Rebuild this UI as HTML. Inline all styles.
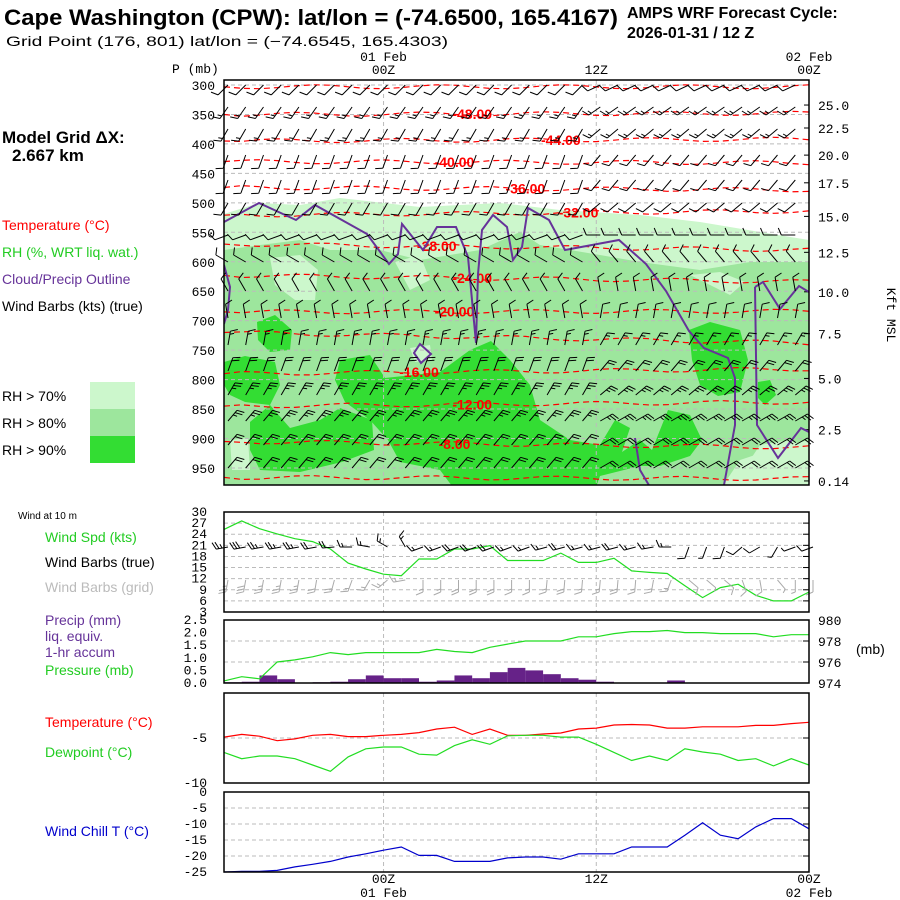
<!DOCTYPE html>
<html><head><meta charset="utf-8"><style>
body{margin:0;background:#fff}
svg{display:block}
text{font-family:"Liberation Sans",sans-serif}
.m{font-family:"Liberation Mono",monospace;font-size:13px}
</style></head><body>
<svg id="s" width="900" height="900" viewBox="0 0 900 900" xmlns="http://www.w3.org/2000/svg">
<text x="4" y="25" font-size="22" font-weight="bold" textLength="614" lengthAdjust="spacingAndGlyphs">Cape Washington (CPW):  lat/lon = (-74.6500, 165.4167)</text>
<text x="6" y="46" font-size="14" textLength="442" lengthAdjust="spacingAndGlyphs">Grid Point (176, 801) lat/lon = (−74.6545, 165.4303)</text>
<text x="627" y="18" font-size="16" font-weight="bold">AMPS WRF Forecast Cycle:</text>
<text x="627" y="38" font-size="16" font-weight="bold">2026-01-31 / 12  Z</text>
<text x="2" y="143" font-size="17" font-weight="bold">Model Grid ΔX:</text>
<text x="12" y="161" font-size="17" font-weight="bold">2.667 km</text>
<g font-size="14">
<text x="2" y="230" fill="#f00">Temperature (°C)</text>
<text x="2" y="257" fill="#2c2">RH (%, WRT liq. wat.)</text>
<text x="2" y="284" fill="#639">Cloud/Precip Outline</text>
<text x="2" y="311" fill="#000">Wind Barbs (kts) (true)</text>
<text x="2" y="401">RH &gt; 70%</text>
<text x="2" y="428">RH &gt; 80%</text>
<text x="2" y="455">RH &gt; 90%</text>
</g>
<rect x="90" y="382" width="45" height="27" fill="#ccf7cc"/>
<rect x="90" y="409" width="45" height="27" fill="#9de69d"/>
<rect x="90" y="436" width="45" height="27" fill="#33dd33"/>
<text x="18" y="519" font-size="10">Wind at 10 m</text>
<g font-size="14">
<text x="45" y="542" fill="#2c2">Wind Spd (kts)</text>
<text x="45" y="567">Wind Barbs (true)</text>
<text x="45" y="592" fill="#bbb">Wind Barbs (grid)</text>
<text x="45" y="625" fill="#639">Precip (mm)</text>
<text x="45" y="641" fill="#639">liq. equiv.</text>
<text x="45" y="657" fill="#639">1-hr accum</text>
<text x="45" y="675" fill="#2c2">Pressure (mb)</text>
<text x="856" y="654">(mb)</text>
<text x="45" y="727" fill="#f00">Temperature (°C)</text>
<text x="45" y="757" fill="#2c2">Dewpoint (°C)</text>
<text x="45" y="836" fill="#00c">Wind Chill T (°C)</text>
</g>
<text x="887" y="315" font-size="12" class="m" transform="rotate(90 887 315)" text-anchor="middle">Kft MSL</text>
<text x="172" y="73" class="m">P (mb)</text>
</svg>
<script>
const NS="http://www.w3.org/2000/svg";
const svg=document.getElementById('s');
function mk(tag,attrs,parent){const e=document.createElementNS(NS,tag);for(const k in attrs)e.setAttribute(k,attrs[k]);(parent||svg).appendChild(e);return e;}
// ---- data ----
const hours=[0,1,2,3,4,5,6,7,8,9,10,11,12,13,14,15,16,17,18,19,20,21,22,23,24,25,26,27,28,29,30,31,32,33];
const windSpd=[25.3,27.6,25.5,24.1,22.8,22,20,16.2,14.6,13.2,12.8,17.3,17.3,20,20,20.9,16.9,16.9,16.9,18.9,16.4,16.4,17.5,14.1,13.7,13.4,10.1,6.9,9.6,10.5,7.5,6,6,8.4];
const windDir=[260,260,260,260,260,260,265,270,280,300,330,250,250,250,250,250,250,250,255,255,255,255,255,255,260,270,200,200,200,230,240,210,250,250];
const pressure=[974.2,974.6,974.4,976,976.2,976.5,976.9,976.7,976.9,976.9,976.9,976.9,977.2,977,976.9,977.4,977.7,978,978,978,978.4,978.4,978.7,978.9,978.9,979,978.8,978.8,978.7,978.7,978.7,978.4,978.6,978.6];
const precip=[0.03,0.05,0.3,0.15,0,0.03,0.05,0.15,0.3,0.19,0.19,0.05,0.1,0.3,0.19,0.43,0.6,0.5,0.35,0.19,0.13,0.05,0,0,0,0.1,0,0,0,0,0,0,0,0];
const tempC=[-4.9,-4.6,-4.8,-5.3,-5.1,-4.7,-4.6,-4.85,-4.85,-4.7,-4.6,-4.4,-4,-3.8,-4.6,-4,-4.7,-4.7,-4.55,-4.45,-4,-3.9,-3.55,-3.5,-3.55,-3.9,-3.9,-3.75,-3.75,-3.75,-3.6,-3.6,-3.4,-3.25];
const dewC=[-6.6,-7.3,-7,-7,-7.3,-8,-8.7,-7.1,-6.2,-6,-6,-6.8,-6.9,-5.85,-5.2,-5.7,-4.75,-4.7,-4.7,-4.9,-4.9,-5.7,-6.6,-7.5,-7,-7.5,-6.2,-6.55,-6.8,-7.5,-7.3,-8.1,-7.3,-8];
const windChill=[-25,-24.8,-24.8,-24.5,-23.4,-22.6,-21.7,-20.3,-19.3,-18.2,-17.2,-19.8,-19.8,-21.7,-21.7,-21.7,-20.6,-20.3,-20.3,-21,-19.3,-19.3,-19.3,-17.2,-17.2,-17.2,-13.5,-9.6,-13.5,-14.6,-10.9,-8.3,-8.3,-11.5];
const pLevels=[300,350,400,450,500,550,600,650,700,750,800,850,900,950];
const kftLabels=["25.0","22.5","20.0","17.5","15.0","12.5","10.0","7.5","5.0","2.5","0.14"];
const kftPres=[334,373,419,466,523,584,651,722,798,885,972];
const tempLevels=[null,-48,-44,-40,-36,-32,-28,-24,-20,null,-16,-12,-8,null];
const tempPresL=[303,350,395,430,474,521,570,623,685,720,790,845,905,966];
const tempPresR=[303,348,392,432,478,514,580,634,684,738,782,838,915,968];
const tempLabelHour=[0,14,19,13,17,20,12,14,13,0,11,14,13,0];
const wsTicks=[30,27,24,21,18,15,12,9,6,3];
const prTicks=[2.5,2.0,1.5,1.0,0.5,0.0];
const pmbTicks=[980,978,976,974];
const tTicks=[-5,-10];
const wcTicks=[0,-5,-10,-15,-20,-25];
// ---- scales ----
const X0=224,X1=809,NH=33;
const xT=h=>X0+h*(X1-X0)/NH;
const yPm=p=>85+(p-300)*0.5892;
const yWS=k=>512+(30-k)/27*100;
const yPR=mb=>683-(mb-974)/6*63;
const yRN=mm=>683-mm/2.5*63;
const yTC=t=>693-t/10*90;
const yWC=t=>792-t/25*80;
const pts=(arr,f)=>arr.map((v,i)=>xT(hours[i]).toFixed(1)+','+f(v).toFixed(1)).join(' ');
// ---- main cross-section ----
const main=mk('g',{});


const clip=mk('clipPath',{id:'cp'});mk('rect',{x:X0,y:80,width:X1-X0,height:405},clip);
const fills=mk('g',{'clip-path':'url(#cp)'},main);


const rh70="M224,214 L259,203 L300,205 L340,198 L420,207 L500,203 L560,210 L640,215 L700,222 L760,232 L809,240 L809,490 L224,490Z";
const rh80="M224,250 L260,245 L300,240 L330,250 L380,250 L420,260 L480,250 L520,232 L540,245 L600,255 L640,262 L700,270 L750,262 L809,262 L809,440 L770,450 L740,460 L720,490 L224,490Z";
const light80=["M270,258 L300,255 L318,270 L315,300 L295,300 L275,285Z","M395,262 L420,255 L430,280 L410,290Z","M690,275 L720,272 L745,282 L730,295Z","M760,445 L790,440 L809,450 L809,490 L730,490Z","M230,440 L248,438 L250,470 L232,470Z","M410,348 L430,345 L432,360 L415,362Z"];
const rh90=["M340,360 L370,355 L385,378 L440,372 L470,350 L491,341 L510,360 L530,385 L540,420 L570,440 L600,445 L615,420 L630,428 L622,452 L640,440 L652,450 L660,430 L668,410 L690,415 L702,440 L690,456 L660,466 L640,466 L600,476 L595,490 L455,490 L440,470 L400,462 L388,440 L370,420 L345,402 L335,380Z",
"M250,422 L270,405 L290,428 L320,420 L340,408 L372,420 L374,450 L342,462 L300,472 L260,470 L250,450Z",
"M257,322 L275,315 L292,330 L290,350 L270,352 L258,340Z","M224,362 L245,356 L275,362 L280,385 L270,405 L245,402 L230,395 L224,385Z",
"M689,330 L710,322 L740,330 L748,360 L740,392 L718,396 L700,385 L692,360Z","M758,382 L770,380 L776,395 L765,405 L758,398Z"];
mk('path',{d:rh70,fill:'#ccf7cc'},fills);
mk('path',{d:rh80,fill:'#9de69d'},fills);
light80.forEach(d=>mk('path',{d:d,fill:'#ccf7cc'},fills));
rh90.forEach(d=>mk('path',{d:d,fill:'#33dd33'},fills));
// grid
pLevels.forEach((p,i)=>{
  mk('line',{x1:X0,x2:X1,y1:yPm(p),y2:yPm(p),stroke:'#bbb','stroke-dasharray':'4,3'},main);
  const t=mk('text',{x:215,y:yPm(p)+5,'text-anchor':'end',class:'m'},main);t.textContent=p;
  
  
});
kftLabels.forEach((l,i)=>{const y=yPm(kftPres[i]);
  mk('line',{x1:X1-5,x2:X1,y1:y,y2:y,stroke:'#000'},main);
  const t=mk('text',{x:818,y:y+5,class:'m'},main);t.textContent=l;
  
  
});
[9,21].forEach(h=>{mk('line',{x1:xT(h),x2:xT(h),y1:80,y2:485,stroke:'#bbb','stroke-dasharray':'4,3'},main);});
// temperature contours
const tg=mk('g',{'clip-path':'url(#cp)'},main);


tempLevels.forEach((lv,i)=>{
  const yl=yPm(tempPresL[i]),yr=yPm(tempPresR[i]);
  let d='M'+X0+','+yl;
  for(let h=1;h<=NH;h++){const y=yl+(yr-yl)*h/NH+Math.sin(h*0.9+i)*2;d+=' L'+xT(h).toFixed(1)+','+y.toFixed(1);}
  mk('path',{d:d,fill:'none',stroke:'#f00','stroke-dasharray':'6,4','stroke-width':1.2},tg);
  if(lv!==null){const h=tempLabelHour[i];const y=yl+(yr-yl)*h/NH;
    const t=mk('text',{x:xT(h),y:y+5,'text-anchor':'middle','font-size':14,'font-weight':'bold',fill:'#f00'},tg);t.textContent=lv.toFixed(2);
    
    }
});
// cloud outline
const cloud=["M224,222 L259,203 L296,220 L315,205 L367,234 L389,264 L398,254 L402,224 L423,250 L437,227 L456,227 L468,257 L476,343 L478,274 L482,230 L493,215 L507,227 L513,260 L522,247 L528,208 L549,220 L565,250 L619,240 L646,264 L666,291 L689,331 L704,348 L728,358 L735,378 L735,425 L724,485",
"M224,265 L230,287 L228,310 L224,324","M755,287 L763,282 L780,309 L799,286 L809,292","M755,287 L757,425 L778,458 L801,428 L809,432",
"M420,344 L431,354 L421,363 L414,353Z","M635,438 L640,470 L650,487"];
const cg=mk('g',{'clip-path':'url(#cp)'},main);


cloud.forEach(d=>mk('path',{d:d,fill:'none',stroke:'#639','stroke-width':2},cg));
// barbs
function barb(g,x,y,dir,spd,col,len){
  const a=dir*Math.PI/180,dx=Math.sin(a),dy=-Math.cos(a);
  const ex=x+dx*len,ey=y+dy*len;
  let d='M'+x.toFixed(1)+','+y.toFixed(1)+' L'+ex.toFixed(1)+','+ey.toFixed(1);
  const px=-dy,py=dx;let s=Math.round(spd/5)*5,pos=0;
  while(s>=10){const bx=ex-dx*pos,by=ey-dy*pos;d+=' M'+bx.toFixed(1)+','+by.toFixed(1)+' l'+((px*7+dx*3)).toFixed(1)+','+((py*7+dy*3)).toFixed(1);s-=10;pos+=3;}
  if(s>=5){const bx=ex-dx*pos,by=ey-dy*pos;d+=' M'+bx.toFixed(1)+','+by.toFixed(1)+' l'+((px*4+dx*1.5)).toFixed(1)+','+((py*4+dy*1.5)).toFixed(1);}
  mk('path',{d:d,fill:'none',stroke:col,'stroke-width':1},g);
}
const barbRowY=[85,107,129,155,180,203,235,262,291,318,345,371,395,421,445,468];
const rowDir=[225,215,210,200,200,210,250,300,330,350,10,20,30,40,40,40];
const rowSpd=[10,15,15,10,10,10,10,10,10,10,15,20,25,25,20,20];
const bg=mk('g',{},main);


barbRowY.forEach((y,r)=>{for(let h=0;h<NH;h++){barb(bg,xT(h)+4,y,rowDir[r]+(h>20?20:0),rowSpd[r],'#000',14);}});
mk('rect',{x:X0,y:80,width:X1-X0,height:405,fill:'none',stroke:'#000','stroke-width':1.5},main);
// time labels
function tl(x,y,s){const t=mk('text',{x:x,y:y,'text-anchor':'middle',class:'m'});t.textContent=s;
  
  }
tl(xT(9),61,'01 Feb');tl(xT(9),74,'00Z');tl(xT(21),74,'12Z');tl(xT(33),61,'02 Feb');tl(xT(33),74,'00Z');
tl(xT(9),883,'00Z');tl(xT(9),897,'01 Feb');tl(xT(21),883,'12Z');tl(xT(33),883,'00Z');tl(xT(33),897,'02 Feb');
// panels
function panel(name,y0,y1){const g=mk('g',{});
  [9,21].forEach(h=>mk('line',{x1:xT(h),x2:xT(h),y1:y0,y2:y1,stroke:'#bbb','stroke-dasharray':'4,3'},g));return g;}
function hgrid(g,y){mk('line',{x1:X0,x2:X1,y1:y,y2:y,stroke:'#bbb','stroke-dasharray':'4,3'},g);mk('line',{x1:X1-6,x2:X1,y1:y,y2:y,stroke:'#000'},g);}
function lab(g,x,y,s,anchor,fs){const t=mk('text',{x:x,y:y,'text-anchor':anchor,class:'m','font-size':fs||10},g);t.textContent=s;
  
  }
// wind panel
const pw=panel('wind-panel',512,612);
wsTicks.forEach(k=>{hgrid(pw,yWS(k));lab(pw,207,yWS(k)+4,k,'end');});
const wl=mk('polyline',{points:pts(windSpd,yWS),fill:'none',stroke:'#2d2','stroke-width':1.2},pw);


windDir.forEach((d,i)=>{barb(pw,xT(hours[i])+4,547,d,windSpd[i],'#000',12);barb(pw,xT(hours[i])+4,580,d-70,windSpd[i],'#aaa',12);});
mk('rect',{x:X0,y:512,width:X1-X0,height:100,fill:'none',stroke:'#000','stroke-width':1.5},pw);
// precip/pressure panel
const pp=panel('precip-pressure-panel',620,683);
pmbTicks.forEach(m=>{hgrid(pp,yPR(m));lab(pp,818,yPR(m)+5,m,'start',12);});
prTicks.forEach(v=>lab(pp,207,yRN(v)+4,v.toFixed(1),'end'));
const bw=(X1-X0)/NH;
precip.forEach((v,i)=>{if(v>0){const r=mk('rect',{x:xT(hours[i]),y:yRN(v),width:bw,height:683-yRN(v),fill:'#662288'},pp);
  
  }});
const pl=mk('polyline',{points:pts(pressure,yPR),fill:'none',stroke:'#2d2','stroke-width':1.2},pp);


mk('rect',{x:X0,y:620,width:X1-X0,height:63,fill:'none',stroke:'#000','stroke-width':1.5},pp);
// temp panel
const pt=panel('temperature-panel',693,783);
tTicks.forEach(t=>{hgrid(pt,yTC(t));lab(pt,207,yTC(t)+4,t,'end');});
const tl1=mk('polyline',{points:pts(tempC,yTC),fill:'none',stroke:'#f00','stroke-width':1.2},pt);


const dl=mk('polyline',{points:pts(dewC,yTC),fill:'none',stroke:'#2d2','stroke-width':1.2},pt);


mk('rect',{x:X0,y:693,width:X1-X0,height:90,fill:'none',stroke:'#000','stroke-width':1.5},pt);
// wind chill panel
const pc=panel('wind-chill-panel',792,872);
wcTicks.forEach(t=>{hgrid(pc,yWC(t));lab(pc,207,yWC(t)+4,t,'end');});
const wcl=mk('polyline',{points:pts(windChill,yWC),fill:'none',stroke:'#00c','stroke-width':1.2},pc);


mk('rect',{x:X0,y:792,width:X1-X0,height:80,fill:'none',stroke:'#000','stroke-width':1.5},pc);
</script>
</body></html>
